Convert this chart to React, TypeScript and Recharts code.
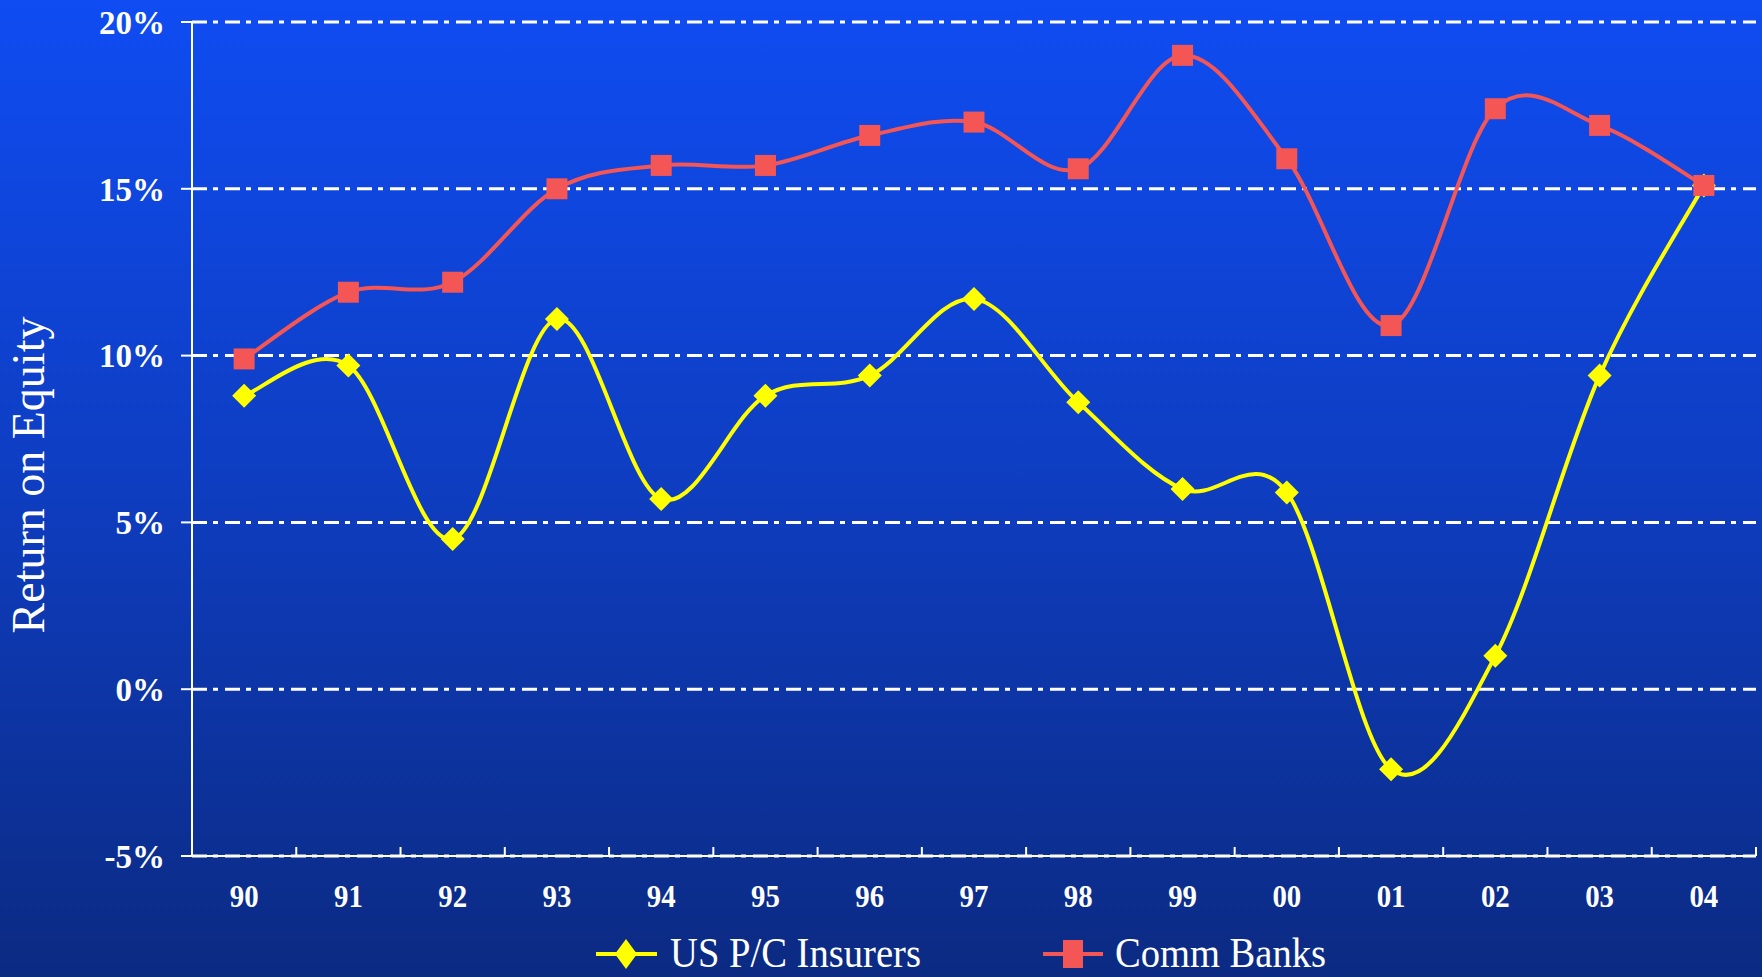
import React from 'react';
import { LineChart, Line, XAxis, YAxis, CartesianGrid, Legend } from 'recharts';

const years = ['90', '91', '92', '93', '94', '95', '96', '97', '98', '99', '00', '01', '02', '03', '04'];
const insurers = [8.8, 9.7, 4.5, 11.1, 5.7, 8.8, 9.4, 11.7, 8.6, 6.0, 5.9, -2.4, 1.0, 9.4, 15.1];
const banks = [9.9, 11.9, 12.2, 15.0, 15.7, 15.7, 16.6, 17.0, 15.6, 19.0, 15.9, 10.9, 17.4, 16.9, 15.1];
const yTicks = [-5, 0, 5, 10, 15, 20];
const seriesNames = ['US P/C Insurers', 'Comm Banks'];

const data = years.map((y, i) => ({ i, year: y, ins: insurers[i], bank: banks[i] }));

const FONT = "'Liberation Serif', 'Times New Roman', serif";
const YELLOW = '#FFFF00';
const RED = '#F45555';
const W = 1762;
const H = 977;
const LEGEND_H = 60;

// Excel-like smoothed line (Catmull-Rom as cubic Bezier)
const excelCurve = (context: any) => {
  let pts: number[][] = [];
  return {
    areaStart() {},
    areaEnd() {},
    lineStart() {
      pts = [];
    },
    point(x: number, y: number) {
      pts.push([+x, +y]);
    },
    lineEnd() {
      const n = pts.length;
      if (n === 0) return;
      context.moveTo(pts[0][0], pts[0][1]);
      for (let k = 0; k < n - 1; k++) {
        const p0 = pts[Math.max(k - 1, 0)];
        const p1 = pts[k];
        const p2 = pts[k + 1];
        const p3 = pts[Math.min(k + 2, n - 1)];
        const c1x = p1[0] + (p2[0] - p0[0]) / 6;
        const c1y = p1[1] + (p2[1] - p0[1]) / 6;
        const c2x = p2[0] - (p3[0] - p1[0]) / 6;
        const c2y = p2[1] - (p3[1] - p1[1]) / 6;
        context.bezierCurveTo(c1x, c1y, c2x, c2y, p2[0], p2[1]);
      }
    },
  };
};

const renderDiamond = (p: any) => {
  const { cx, cy, index } = p;
  if (cx == null || cy == null) return <g key={`d${index}`} />;
  const r = 12;
  return (
    <polygon
      key={`d${index}`}
      points={`${cx},${cy - r} ${cx + r},${cy} ${cx},${cy + r} ${cx - r},${cy}`}
      fill={YELLOW}
    />
  );
};

const renderSquare = (p: any) => {
  const { cx, cy, index } = p;
  if (cx == null || cy == null) return <g key={`s${index}`} />;
  const s = 10.5;
  return <rect key={`s${index}`} x={cx - s} y={cy - s} width={2 * s} height={2 * s} fill={RED} />;
};

const XTick = (p: any) => {
  const { x, y, payload, index } = p;
  const axisW = typeof p.width === 'number' && p.width > 0 ? p.width : 1564;
  const half = axisW / years.length / 2;
  const label = years[Math.round(payload.value)];
  return (
    <g>
      <line x1={x - half} x2={x - half} y1={y - 9} y2={y} stroke="#fff" strokeWidth={2} />
      {index === years.length - 1 && (
        <line x1={x + half} x2={x + half} y1={y - 9} y2={y} stroke="#fff" strokeWidth={2} />
      )}
      <text
        transform={`translate(${x},${y + 51}) scale(0.9,1)`}
        textAnchor="middle"
        fill="#fff"
        fontSize={32}
        fontWeight="bold"
        fontFamily={FONT}
      >
        {label}
      </text>
    </g>
  );
};

const YTitle = (p: any) => {
  const vb = p.viewBox || { x: 0, y: 22, width: 192, height: 834 };
  const cx = vb.x + 44;
  const cy = vb.y + vb.height / 2 + 36;
  return (
    <text
      transform={`translate(${cx},${cy}) rotate(-90)`}
      textAnchor="middle"
      fill="#fff"
      fontSize={46}
      fontFamily={FONT}
    >
      Return on Equity
    </text>
  );
};

const renderLegend = () => {
  const iy = 37;
  const by = 50;
  return (
    <svg width={W} height={LEGEND_H} style={{ display: 'block' }}>
      <line x1={596} x2={657} y1={iy} y2={iy} stroke={YELLOW} strokeWidth={4} />
      <polygon points={`626,${iy - 15} 637,${iy} 626,${iy + 15} 615,${iy}`} fill={YELLOW} />
      <text x={670} y={by} fill="#fff" fontSize={43} fontFamily={FONT} textLength={251} lengthAdjust="spacingAndGlyphs">
        {seriesNames[0]}
      </text>
      <line x1={1043} x2={1103} y1={iy} y2={iy} stroke={RED} strokeWidth={4} />
      <rect x={1063} y={iy - 14} width={20} height={28} fill={RED} />
      <text x={1115} y={by} fill="#fff" fontSize={43} fontFamily={FONT} textLength={211} lengthAdjust="spacingAndGlyphs">
        {seriesNames[1]}
      </text>
    </svg>
  );
};

export default function App() {
  return (
    <div
      style={{
        position: 'absolute',
        left: 0,
        top: 0,
        width: W,
        height: H,
        background: 'linear-gradient(to bottom, #0F4CF2 0%, #0E3DC0 50%, #0B2A82 100%)',
        overflow: 'hidden',
      }}
    >
      <LineChart width={W} height={H} data={data} margin={{ top: 22, right: 6, left: 0, bottom: 0 }}>
        <CartesianGrid horizontal vertical={false} stroke="#fff" strokeWidth={3} strokeDasharray="15 6 5 7" />
        <XAxis
          type="number"
          dataKey="i"
          domain={[-0.5, years.length - 0.5]}
          ticks={years.map((_, i) => i)}
          interval={0}
          height={121 - LEGEND_H}
          tickSize={0}
          tickMargin={0}
          tickLine={false}
          axisLine={{ stroke: '#fff', strokeWidth: 2 }}
          tick={<XTick />}
        />
        <YAxis
          type="number"
          domain={[-5, 20]}
          ticks={yTicks}
          interval={0}
          width={192}
          tickFormatter={(v: number) => `${v}%`}
          tickSize={11}
          tickMargin={16}
          axisLine={{ stroke: '#fff', strokeWidth: 2 }}
          tickLine={{ stroke: '#fff', strokeWidth: 2 }}
          tick={{ fill: '#fff', fontSize: 33, fontWeight: 'bold', fontFamily: FONT }}
          label={<YTitle />}
        />
        <Legend
          verticalAlign="bottom"
          height={LEGEND_H}
          content={renderLegend}
          wrapperStyle={{ left: 0, bottom: 0, width: W, height: LEGEND_H }}
        />
        <Line
          name={seriesNames[0]}
          dataKey="ins"
          type={excelCurve as any}
          stroke={YELLOW}
          strokeWidth={4}
          dot={renderDiamond}
          activeDot={false}
          isAnimationActive={false}
        />
        <Line
          name={seriesNames[1]}
          dataKey="bank"
          type={excelCurve as any}
          stroke={RED}
          strokeWidth={4}
          dot={renderSquare}
          activeDot={false}
          isAnimationActive={false}
        />
      </LineChart>
    </div>
  );
}
